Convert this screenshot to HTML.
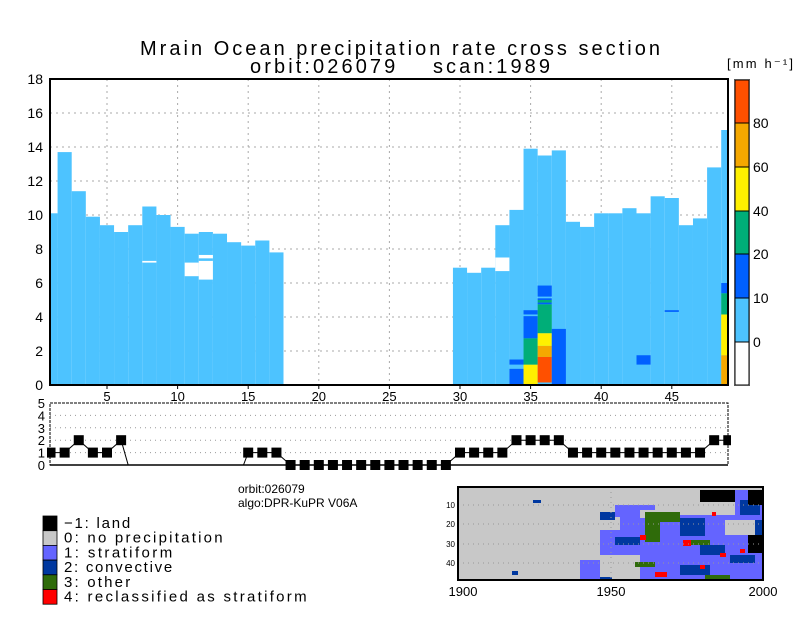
<!DOCTYPE html>
<html><head><meta charset="utf-8"><style>
body{margin:0;background:#fff}
svg text{font-family:"Liberation Sans",sans-serif;fill:#000}
</style></head><body>
<svg id="c" width="800" height="618" xmlns="http://www.w3.org/2000/svg">
<text x="400" y="55" font-size="20" text-anchor="middle" textLength="520">Mrain Ocean precipitation rate cross section</text>
<text x="400" y="73" font-size="20" text-anchor="middle" textLength="300" xml:space="preserve">orbit:026079    scan:1989</text>
<g id="main"></g>
<g id="low"></g>
<g id="cbar"></g>
<text x="238" y="493" font-size="12">orbit:026079</text>
<text x="238" y="507" font-size="12">algo:DPR-KuPR V06A</text>
<g id="legend"></g>
<g id="map"></g>
</svg>
<script>
const NS="http://www.w3.org/2000/svg";
function mk(p,t,a){const e=document.createElementNS(NS,t);for(const k in a)e.setAttribute(k,a[k]);p.appendChild(e);return e;}
// data
const bins=[...Array(49)].map((_,i)=>i+1);
const stormTop=[10.1,13.7,11.4,9.9,9.4,9.0,9.4,10.5,10.0,9.3,8.9,9.0,8.9,8.4,8.2,8.5,7.8,0,0,0,0,0,0,0,0,0,0,0,0,6.9,6.6,6.9,9.4,10.3,13.9,13.5,13.8,9.6,9.3,10.1,10.1,10.4,10.1,11.1,11.0,9.4,9.8,12.8,15.0];
// gaps: [bin, lo, hi]
const gapBins=[8,11,12,12,33];
const gapLo=[7.2,6.4,6.2,7.45,6.7];
const gapHi=[7.3,7.2,7.3,7.65,7.5];
// rain segments: bin, lo, hi, class (0 lightblue..6 redorange)
const segBin=[34,34,35,35,35,35,36,36,36,36,36,36,36,36,37,43,45,49,49,49,49];
const segLo=[0,1.2,0,1.2,2.75,4.15,0.15,1.65,2.3,3.05,4.75,4.85,5.0,5.2,0,1.2,4.3,0,1.75,4.15,5.4];
const segHi=[0.95,1.5,1.2,2.75,4.05,4.4,1.65,2.3,3.05,4.75,4.85,5.0,5.1,5.85,3.3,1.75,4.4,1.75,4.15,5.4,6.0];
const segCls=[2,2,4,3,2,2,6,5,4,3,2,3,2,2,2,2,2,5,4,3,2];
const colors=["#ffffff","#4dc3ff","#0060ff","#00ae78","#fff000","#f5a800","#ff5000"];
const cbTicks=["0","10","20","40","60","80"];
const yTicks=[0,2,4,6,8,10,12,14,16,18];
const xTicks=[5,10,15,20,25,30,35,40,45];
const rainType=[1,1,2,1,1,2,-2,-2,-2,-2,-2,-2,-2,-2,1,1,1,0,0,0,0,0,0,0,0,0,0,0,0,1,1,1,1,2,2,2,2,1,1,1,1,1,1,1,1,1,1,2,2];
const legendLabels=["\u22121: land","0: no precipitation","1: stratiform","2: convective","3: other","4: reclassified as stratiform"];
const legendColors=["#000000","#c8c8c8","#6464ff","#0038a0","#2f6b0a","#ff0000"];

const L=50,R=728,T=79,B=385;
const X=v=>36.4+v*14.12;
const Y=v=>B-v*(B-T)/18;
const main=document.getElementById('main');
// grid
for(const t of yTicks){ if(t>0&&t<18){const g=mk(main,'line',{x1:L,x2:R,y1:Y(t),y2:Y(t),stroke:'#aaa','stroke-dasharray':'2,4'});}}
for(const t of xTicks){const g=mk(main,'line',{x1:X(t),x2:X(t),y1:T,y2:B,stroke:'#aaa','stroke-dasharray':'2,4'});}
// bars
bins.forEach((b,i)=>{const h=stormTop[i];if(h<=0)return;
 const x0=Math.max(L,X(b-0.5)),x1=Math.min(R,X(b+0.5));
 const r=mk(main,'rect',{x:x0,y:Y(h),width:x1-x0,height:Y(0)-Y(h),fill:colors[1]});
 
 });
gapBins.forEach((b,i)=>{const x0=Math.max(L,X(b-0.5)),x1=Math.min(R,X(b+0.5));
 const r=mk(main,'rect',{x:x0,y:Y(gapHi[i]),width:x1-x0,height:Y(gapLo[i])-Y(gapHi[i]),fill:'#fff'});
 
 });
segBin.forEach((b,i)=>{const x0=Math.max(L,X(b-0.5)),x1=Math.min(R,X(b+0.5));
 const r=mk(main,'rect',{x:x0,y:Y(segHi[i]),width:x1-x0,height:Y(segLo[i])-Y(segHi[i]),fill:colors[segCls[i]]});
 
 });
const fr=mk(main,'rect',{x:L,y:T,width:R-L,height:B-T,fill:'none',stroke:'#000','stroke-width':2});

for(const t of yTicks){const tx=mk(main,'text',{x:43,y:Y(t)+5,'font-size':14,'text-anchor':'end'});tx.textContent=t;
 }
for(const t of xTicks){mk(main,'line',{x1:X(t),x2:X(t),y1:B,y2:B+4,stroke:'#000'});
 const tx=mk(main,'text',{x:X(t),y:401,'font-size':13,'text-anchor':'middle'});tx.textContent=t;
 }
// colorbar
const cb=document.getElementById('cbar');
const cbY=[385,342,298,254,211,167,123,80];
for(let k=0;k<7;k++){const r=mk(cb,'rect',{x:735,y:cbY[k+1],width:14,height:cbY[k]-cbY[k+1],fill:colors[k],stroke:'#000','stroke-width':1});
 }
mk(cb,'rect',{x:734.5,y:79.5,width:15,height:306,fill:'none',stroke:'#555'});
cbTicks.forEach((t,k)=>{const tx=mk(cb,'text',{x:753,y:cbY[k+1]+5,'font-size':14});tx.textContent=t;
 });
const un=mk(cb,'text',{x:727,y:68,'font-size':13,textLength:66});un.textContent='[mm h\u207B\u00B9]';

// lower panel
const low=document.getElementById('low');
const LT=403,LB=465,YL=v=>LB-v*(LB-LT)/5;
for(let v=1;v<5;v++)mk(low,'line',{x1:L,x2:R,y1:YL(v),y2:YL(v),stroke:'#999','stroke-dasharray':'1,4'});
for(let v=0;v<=5;v++){const tx=mk(low,'text',{x:45,y:YL(v)+5,'font-size':13,'text-anchor':'end'});tx.textContent=v;
 }
mk(low,'clipPath',{id:'lc'});
mk(low.lastChild,'rect',{x:L-6,y:LT,width:R-L+12,height:LB-LT});
const pl=mk(low,'polyline',{points:bins.map((b,i)=>X(b)+','+YL(rainType[i])).join(' '),fill:'none',stroke:'#000','clip-path':'url(#lc)'});

const sq=mk(low,'g',{'clip-path':'url(#lc2)'});
mk(low,'clipPath',{id:'lc2'});mk(low.lastChild,'rect',{x:L-3,y:LT-10,width:R-L+6,height:LB-LT+20});
bins.forEach((b,i)=>{if(rainType[i]<0)return;
 const r=mk(sq,'rect',{x:X(b)-5,y:YL(rainType[i])-5,width:10,height:10,fill:'#000'});
 });
mk(low,'rect',{x:L,y:LT,width:R-L,height:LB-LT,fill:'none',stroke:'#000','stroke-dasharray':'3,1'});
mk(low,'line',{x1:L,x2:R,y1:LB,y2:LB,stroke:'#000','stroke-width':1.5});
// legend
const lg=document.getElementById('legend');
legendLabels.forEach((s,i)=>{const y=516+i*14.7;
 const r=mk(lg,'rect',{x:43,y:y,width:14,height:14.7,fill:legendColors[i],stroke:'#000','stroke-width':0.8});
 
 const tx=mk(lg,'text',{x:64,y:y+12,'font-size':15,textLength:s.length*8.4,'letter-spacing':'1'});tx.textContent=s;
 });
// map
const mp=document.getElementById('map');
mk(mp,'rect',{x:458,y:487,width:305,height:93,fill:'#c8c8c8'});
const P='#6464ff',Bc='#0038a0',G='#2f6b0a',K='#000',Rr='#ff0000';
const shapes=[
[P,620,515,143,65],[P,600,530,30,40],[P,615,505,40,12],[P,700,490,63,40],[P,580,560,40,20],
['#c8c8c8',700,495,35,20],['#c8c8c8',725,520,38,15],['#c8c8c8',600,555,40,25],['#c8c8c8',640,510,30,8],['#c8c8c8',735,525,28,8],
[G,645,512,35,10],[G,645,522,15,20],[G,690,540,20,5],[G,705,575,25,5],[G,635,562,20,5],
[Bc,680,518,25,18],[Bc,700,545,25,10],[Bc,740,500,20,15],[Bc,748,540,15,10],[Bc,615,537,25,8],[Bc,680,565,30,10],[Bc,755,520,8,15],[Bc,600,512,15,8],[Bc,730,555,25,8],[Bc,533,500,8,3],[Bc,512,571,6,4],[Bc,600,577,12,3],
[K,700,490,35,12],[K,748,490,15,15],[K,748,535,15,18],
[Rr,640,535,6,5],[Rr,683,540,8,6],[Rr,655,572,12,5],[Rr,720,553,6,4],[Rr,740,549,5,4],[Rr,712,512,4,4],[Rr,700,565,5,4]];
shapes.forEach(s=>{const r=mk(mp,'rect',{x:s[1],y:s[2],width:s[3],height:s[4],fill:s[0]});
 });
[505,524,544,563].forEach(y=>mk(mp,'line',{x1:458,x2:763,y1:y,y2:y,stroke:'#999','stroke-dasharray':'1,4'}));
mk(mp,'line',{x1:611,x2:611,y1:487,y2:580,stroke:'#999','stroke-dasharray':'1,4'});
mk(mp,'rect',{x:458,y:487,width:305,height:93,fill:'none',stroke:'#000','stroke-width':2});
[["10",505],["20",524],["30",544],["40",563]].forEach(a=>{const t=mk(mp,'text',{x:455,y:a[1]+3,'font-size':8,'text-anchor':'end'});t.textContent=a[0];
 });
[["1900",463],["1950",611],["2000",763]].forEach(a=>{const t=mk(mp,'text',{x:a[1],y:596,'font-size':13,'text-anchor':'middle'});t.textContent=a[0];
 });
</script>
</body></html>
